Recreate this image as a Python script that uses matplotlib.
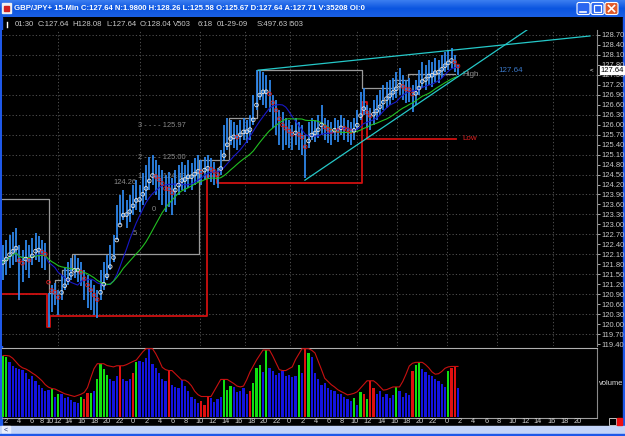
import numpy as np
import pandas as pd
import matplotlib
matplotlib.use('Agg')
import matplotlib.pyplot as plt
from matplotlib.patches import Rectangle, FancyBboxPatch
import matplotlib.transforms as mtransforms

plt.rcParams['font.family'] = ['Liberation Sans', 'DejaVu Sans']

# GBP/JPY 30-min bars (high / low)
highs = [122.38, 122.53, 122.68, 122.77, 122.89, 122.38, 122.23, 122.53, 122.38, 122.59,
         122.74, 122.65, 122.53, 122.44, 120.93, 121.17, 121.24, 121.02, 121.48, 121.69,
         121.87, 121.99, 122.08, 121.99, 121.87, 121.63, 121.48, 121.33, 121.17, 121.02,
         121.63, 121.87, 122.08, 122.38, 122.68, 123.58, 123.88, 124.03, 123.73, 123.88,
         124.18, 124.34, 124.18, 124.55, 124.79, 125.03, 125.09, 124.94, 124.79, 124.64,
         124.49, 124.58, 124.40, 124.64, 124.79, 124.88, 124.79, 124.94, 124.85, 125.00,
         125.09, 124.94, 125.03, 125.09, 125.00, 124.88, 124.70, 125.24, 125.99, 126.20,
         126.14, 126.08, 125.99, 126.14, 126.20, 126.14, 126.29, 126.89, 127.64, 127.64,
         127.58, 127.49, 127.34, 126.89, 126.74, 126.44, 126.38, 126.20, 126.14, 125.99,
         126.20, 126.08, 125.99, 125.69, 126.08, 126.20, 126.14, 126.29, 126.59, 126.20,
         126.14, 126.08, 126.20, 126.14, 126.29, 126.20, 126.14, 126.08, 126.20, 126.44,
         126.98, 127.10, 126.59, 126.50, 126.74, 126.89, 127.04, 127.19, 127.28, 127.34,
         127.40, 127.58, 127.70, 127.49, 127.34, 127.40, 127.19, 127.34, 127.64, 127.89,
         127.80, 127.95, 127.89, 128.01, 127.95, 128.10, 128.19, 128.25, 128.31, 128.10,
         127.80]
lows = [121.33, 121.48, 121.69, 121.78, 121.87, 120.72, 121.27, 121.63, 121.39, 121.78,
        121.93, 121.87, 121.69, 121.63, 119.91, 120.36, 120.57, 120.27, 120.72, 121.02,
        121.17, 121.33, 121.39, 121.27, 121.14, 120.72, 120.48, 120.42, 120.27, 120.18,
        120.72, 121.02, 121.33, 121.63, 121.87, 122.53, 122.98, 123.13, 122.89, 123.07,
        123.28, 123.43, 123.37, 123.58, 123.73, 124.03, 124.18, 123.88, 123.73, 123.58,
        123.37, 123.52, 123.28, 123.58, 123.88, 124.03, 123.97, 124.09, 124.03, 124.18,
        124.27, 124.18, 124.34, 124.40, 124.27, 124.18, 124.09, 124.49, 124.94, 125.24,
        125.39, 125.30, 125.24, 125.39, 125.54, 125.45, 125.54, 125.99, 126.44, 126.74,
        126.59, 126.50, 126.38, 125.90, 125.69, 125.39, 125.24, 125.39, 125.30, 125.24,
        125.39, 125.24, 125.09, 124.40, 125.30, 125.54, 125.48, 125.60, 125.69, 125.54,
        125.45, 125.39, 125.54, 125.48, 125.69, 125.54, 125.48, 125.39, 125.54, 125.84,
        126.14, 126.29, 125.90, 125.84, 125.99, 126.14, 126.29, 126.44, 126.50, 126.59,
        126.74, 126.80, 126.89, 126.74, 126.65, 126.68, 126.38, 126.59, 126.89, 127.10,
        127.04, 127.19, 127.13, 127.28, 127.25, 127.40, 127.58, 127.64, 127.70, 127.58,
        127.49]
volumes = [900, 880, 800, 740, 720, 700, 690, 640, 560, 600,
           520, 470, 430, 380, 400, 410, 300, 330, 340, 280,
           300, 250, 220, 200, 300, 260, 350, 350, 380, 560,
           780, 700, 620, 550, 520, 600, 750, 560, 520, 560,
           640, 800, 820, 800, 860, 1000, 780, 720, 640, 560,
           520, 680, 470, 440, 420, 540, 450, 380, 300, 260,
           200, 240, 180, 300, 280, 220, 260, 300, 550, 400,
           460, 440, 360, 380, 420, 340, 380, 500, 720, 760,
           660, 980, 720, 680, 620, 640, 680, 600, 620, 580,
           600, 760, 640, 1000, 930, 880, 640, 560, 470, 500,
           420, 400, 380, 340, 330, 300, 260, 240, 280, 180,
           370, 330, 260, 530, 420, 340, 380, 300, 340, 280,
           320, 440, 380, 300, 350, 320, 680, 760, 800, 700,
           660, 620, 600, 560, 520, 480, 440, 680, 720, 740,
           420]
vol_kind = ("ggbbbbbbbb" "bbbbbgbgbb" "bbbbgrrgbg" "gggbbbrbbb" "rgbbbbbbbb"
            "brbbbbbbbb" "brrrbbbbgg" "gbbbbbrggg" "bgbbbbbbbb" "bgbrgbbbbb"
            "bbbbbbbbgb" "grgrrbbbbb" "bgbbbbrggb" "bbbbbbbgrr" "b")

# session high / low step lines (bar index, price)
high_step_x = [-1, 14.2, 14.2, 16.0, 16.0, 18.2, 18.2, 21.2, 21.2, 60.3, 60.3, 69.5, 69.5,
               78.2, 78.2, 110.5, 110.5, 120.0, 120.0, 124.6, 124.6, 139.1]
high_step_y = [123.76, 123.76, 120.93, 120.93, 121.33, 121.33, 121.63, 121.63, 122.10, 122.10,
               124.94, 124.94, 126.20, 126.20, 127.64, 127.64, 127.10, 127.10, 127.34, 127.34,
               127.52, 127.52]
low_step_x = [-1, 13.5, 13.5, 14.5, 14.5, 62.8, 62.8, 65.8, 65.8, 110.5, 110.5, 112.0, 112.0, 139.4]
low_step_y = [120.90, 120.90, 119.91, 119.91, 120.24, 120.24, 124.45, 124.45, 124.24, 124.24,
              126.68, 126.68, 125.58, 125.58]

# trend lines
trend_up_x = [78.5, 180.6]
trend_up_y = [127.64, 128.67]
trend_lo_x = [92.9, 161.2]
trend_lo_y = [124.33, 128.85]

hour_labels = (['2', '4', '6', '8', '10', '12', '14', '16', '18', '20', '22', '0'] * 3
               + ['2', '4', '6', '8', '10', '12', '14', '16', '18', '20'])
hour_px = [6, 19, 32, 42, 50, 58, 69, 82, 95, 107, 120, 133,
           147, 160, 173, 186, 200, 213, 226, 239, 252, 264, 277, 289,
           303, 316, 329, 342, 355, 368, 382, 395, 407, 420, 433, 447,
           460, 473, 487, 499, 513, 526, 538, 552, 565, 578]

last_price = 127.64

df = pd.DataFrame({'high': highs, 'low': lows, 'vol': volumes})
df['mid'] = (df['high'] + df['low']) / 2
fast = df['mid'].ewm(span=3).mean()
blue_ma = df['mid'].rolling(10, min_periods=1).mean()
green_ma = df['mid'].rolling(20, min_periods=1).mean()
vol_env = df['vol'].rolling(5, center=True, min_periods=1).max()
vol_ma = vol_env.rolling(3, center=True, min_periods=1).mean()
idx = np.arange(len(df))

W, H = 625, 436


def frac(x0, y0, x1, y1):
    return [x0 / W, 1 - y1 / H, (x1 - x0) / W, (y1 - y0) / H]


def px2i(x):
    return (x - 3) / 3.25


fig = plt.figure(figsize=(6.25, 4.36), dpi=100, facecolor='black')

# ---- window chrome ----
ch = fig.add_axes([0, 0, 1, 1])
ch.set_xlim(0, W)
ch.set_ylim(H, 0)
ch.axis('off')
grad = np.linspace(0, 1, 17).reshape(-1, 1)
ch.imshow(grad, extent=(0, W, 17, 0), aspect='auto',
          cmap=matplotlib.colors.LinearSegmentedColormap.from_list('xp', ['#3a7df0', '#0b55e0', '#1a5fe4']))
ch.add_patch(Rectangle((2, 3), 9, 10, color='#f0f0f0'))
ch.add_patch(Rectangle((4, 6), 5, 5, color='#d02020'))
ch.text(14, 8.5, 'GBP/JPY+ 15-Min C:127.64 N:1.9800 H:128.26 L:125.58 O:125.67 D:127.64 A:127.71 V:35208 OI:0',
        color='white', fontsize=5.6, fontweight='bold', va='center', ha='left')
for bx, col in [(577, '#2a66f0'), (591, '#2a66f0'), (605, '#e05a2a')]:
    ch.add_patch(FancyBboxPatch((bx, 2.5), 13, 12, boxstyle='round,pad=0,rounding_size=2',
                                fc=col, ec='white', lw=0.8))
ch.plot([580, 586], [12, 12], color='white', lw=1.2)
ch.add_patch(Rectangle((594, 5.5), 7, 6.5, fill=False, ec='white', lw=0.9))
ch.plot([608.5, 614.5], [5.5, 11.5], color='white', lw=1.2)
ch.plot([608.5, 614.5], [11.5, 5.5], color='white', lw=1.2)
ch.add_patch(Rectangle((0, 17), 2, H - 17, color='#1e58e8'))
ch.add_patch(Rectangle((623, 17), 2, H - 17, color='#1e58e8'))
ch.add_patch(Rectangle((0, 426), W, 8, color='#c3d4f8'))
ch.add_patch(Rectangle((2, 426), 8, 8, color='#e8eefc'))
ch.text(6, 430, '<', color='#203070', fontsize=5, ha='center', va='center')
ch.add_patch(Rectangle((0, 434), W, 2, color='#1e58e8'))
ch.plot([7, 7], [22, 27], color='white', lw=1)

info = [(15, '01:30'), (38, 'C:127.64'), (72, 'H128.08'), (106, 'L:127.64'), (140, 'O:128.04'),
        (173, 'V503'), (198, '6:18'), (217, '01-29-09'), (257, 'S:497.63'), (288, 'I503')]
for x, t in info:
    ch.text(x, 24.5, t, color='#c8c8c8', fontsize=5.6, va='center', ha='left')

for x, t in zip(hour_px, hour_labels):
    ch.text(x, 421.5, t, color='#d0d0d0', fontsize=5.3, va='center', ha='center')
ch.plot([2, 597], [418, 418], color='#a0a0a0', lw=0.8)
ch.add_patch(Rectangle((609, 417.5), 7, 7, fill=False, ec='#c0c0c0', lw=0.7))
ch.add_patch(Rectangle((617, 417.5), 5, 7, color='#f01010'))
ch.text(611, 383, 'volume', color='#e0e0e0', fontsize=5.4, ha='center', va='center')

# ---- price pane ----
ax = fig.add_axes(frac(2, 30, 597, 346))
ax.set_facecolor('black')
ax.set_xlim(px2i(2), px2i(597))
ax.set_ylim(119.34, 128.85)
for p in np.arange(119.70, 128.75, 0.60):
    ax.axhline(p, color='#5a5a5a', lw=0.6, ls=(0, (1.5, 2.5)), zorder=0)
for x in [58, 140, 200, 245, 290, 357, 397, 447, 497, 553]:
    ax.axvline(px2i(x), color='#5a5a5a', lw=0.6, ls=(0, (1.5, 2.5)), zorder=0)

ax.plot(high_step_x, high_step_y, color='#9a9a9a', lw=0.9, zorder=1)
ax.plot(low_step_x, low_step_y, color='#d01010', lw=1.3, zorder=1)

lbl = dict(color='#8a8a8a', fontsize=5.4, va='center', zorder=1)
ax.text(px2i(138), 125.97, '3 - - - - 125.97', ha='left', **lbl)
ax.text(px2i(138), 125.00, '2 - - - - 125.00', ha='left', **lbl)
ax.text(px2i(138), 124.45, '1 - - - - 124.43', ha='left', **lbl)
ax.text(px2i(137), 124.26, '124.26', ha='right', **lbl)
ax.text(px2i(152), 123.45, '0', ha='left', **lbl)
ax.text(px2i(133), 122.72, '5', ha='left', **lbl)

ax.vlines(idx, df['low'], df['high'], color='#2e86e8', lw=1.3, zorder=2)
ax.plot(idx, blue_ma, color='#1818c8', lw=0.8, zorder=3)
ax.plot(idx, green_ma, color='#22c022', lw=0.8, zorder=3)
falling = fast.diff().fillna(0) < 0
ax.scatter(idx, fast, s=7, facecolors='none',
           edgecolors=np.where(falling, '#e02020', '#e8e8e8'), linewidths=0.6, zorder=4)

ax.plot(trend_up_x, trend_up_y, color='#25c8c8', lw=0.9, zorder=5)
ax.plot(trend_lo_x, trend_lo_y, color='#25c8c8', lw=0.9, zorder=5)
ax.text(px2i(462), 127.52, 'High', color='#909090', fontsize=5.8, va='center', ha='left')
ax.text(px2i(462), 125.58, 'Low', color='#e02020', fontsize=5.8, va='center', ha='left')
ax.text(px2i(498), last_price, '127.64', color='#3a78c8', fontsize=5.8, va='center', ha='left')

ax.yaxis.tick_right()
price_ticks = np.round(np.arange(119.40, 128.71, 0.30), 2)
ax.set_yticks(price_ticks)
ax.set_yticklabels(['%.2f' % v for v in price_ticks])
ax.tick_params(axis='y', colors='#c8c8c8', labelsize=5.5, length=2, pad=1, width=0.6)
ax.set_xticks([])
for s in ['top', 'left', 'bottom']:
    ax.spines[s].set_visible(False)
ax.spines['right'].set_color('#8a8a8a')
ax.spines['right'].set_linewidth(0.8)
tr = mtransforms.blended_transform_factory(ax.transAxes, ax.transData)
ax.text(1.006, last_price, '127.64', transform=tr, color='black', fontsize=5.5, va='center', ha='left',
        bbox=dict(fc='white', ec='white', pad=0.5), zorder=10, clip_on=False)
ax.text(0.994, last_price, '<', transform=tr, color='white', fontsize=4.5, va='center', ha='right')

# ---- volume pane ----
axv = fig.add_axes(frac(2, 348, 597, 417))
axv.set_facecolor('black')
cmap = {'b': '#1414e0', 'g': '#10e010', 'r': '#e01010'}
axv.bar(idx, df['vol'], width=0.7, color=[cmap[k] for k in vol_kind], zorder=2)
axv.plot(idx, vol_ma, color='#c81010', lw=0.8, zorder=3)
axv.set_xlim(px2i(2), px2i(597))
axv.set_ylim(0, 1010)
axv.set_xticks([])
axv.set_yticks([])
for s in ['left', 'bottom']:
    axv.spines[s].set_visible(False)
axv.spines['top'].set_color('#b0b0b0')
axv.spines['right'].set_color('#8a8a8a')
axv.spines['top'].set_linewidth(0.8)

fig.savefig('out.png', dpi=100, facecolor='black')
